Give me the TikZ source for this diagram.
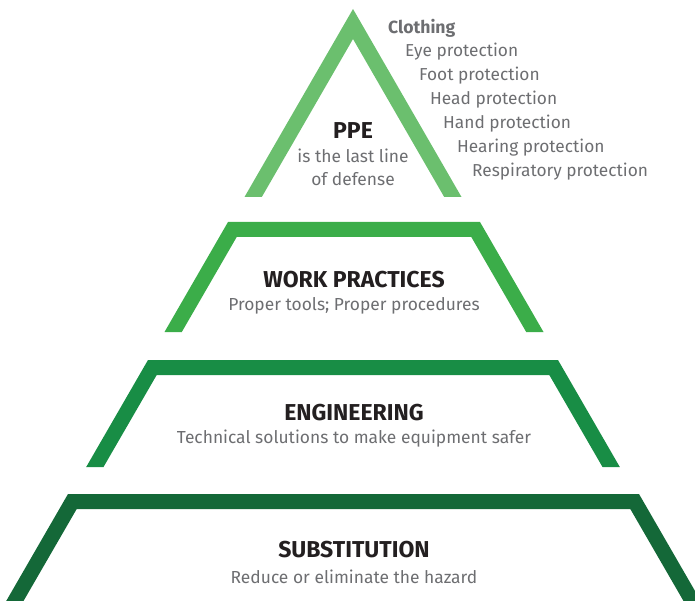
\documentclass[tikz,border=0pt]{standalone}
\usepackage{fontspec}
\setmainfont{Fira Sans}
\usepackage{tikz}
\usetikzlibrary{positioning}
\definecolor{ppegreen}{HTML}{6BBF6E}
\definecolor{workgreen}{HTML}{3BAD49}
\definecolor{enggreen}{HTML}{188D45}
\definecolor{subgreen}{HTML}{146838}
\definecolor{titleink}{HTML}{231F20}
\definecolor{greyink}{HTML}{6D6E71}
\tikzstyle{title}    = [inner sep=0pt, text=titleink, font=\fontsize{23}{27}\selectfont\bfseries]
\tikzstyle{subtitle} = [inner sep=0pt, text=greyink, font=\fontsize{17.4}{21}\selectfont]
\tikzstyle{item}     = [inner sep=0pt, anchor=west, text=greyink, font=\fontsize{17.3}{21}\selectfont]

\begin{document}
\begin{tikzpicture}[x=1pt, y=-1pt]
		\useasboundingbox (0,0) rectangle (695,601);

		% PPE
		\fill[ppegreen] (244.5,197) -- (353,9) -- (461.5,197) -- (444.2,197) -- (353,39) -- (261.8,197) -- cycle;
		% work practices
		\fill[workgreen] (164.5,332) -- (228,222) -- (480,222) -- (543.5,332) -- (526.2,332)
			-- (471.3,237) -- (236.7,237) -- (181.8,332) -- cycle;
		% engineering
		\fill[enggreen] (86.2,467) -- (148,360) -- (558,360) -- (619.8,467) -- (602.5,467)
			-- (549.3,375) -- (156.7,375) -- (103.5,467) -- cycle;
		% substitution
		\fill[subgreen] (6.2,601) -- (68,494) -- (639,494) -- (700.8,601) -- (683.5,601)
			-- (630.3,509) -- (76.7,509) -- (23.5,601) -- cycle;

		\node[title] (ppe) at (353,131) {PPE};
		\node[subtitle] (ppe1) at (353,156) {is the last line};
		\node[subtitle] (ppe2) at (353,179) {of defense};

		\node[item, font=\fontsize{17.6}{21}\selectfont\bfseries] (cloth) at (388,28) {Clothing};
		\node[item] (eye) at (405,52) {Eye protection};
		\node[item] (foot) at (419,76) {Foot protection};
		\node[item] (head) at (430,100) {Head protection};
		\node[item] (hand) at (443,124) {Hand protection};
		\node[item] (hear) at (457,148) {Hearing protection};
		\node[item] (resp) at (472,172) {Respiratory protection};

		\node[title] (work) at (354,280) {WORK PRACTICES};
		\node[subtitle] (work1) at (354,306) {Proper tools; Proper procedures};

		\node[title] (eng) at (354,413) {ENGINEERING};
		\node[subtitle] (eng1) at (354,439) {Technical solutions to make equipment safer};

		\node[title] (sub) at (354,550) {SUBSTITUTION};
		\node[subtitle] (sub1) at (354,577) {Reduce or eliminate the hazard};
	\end{tikzpicture}
\end{document}
